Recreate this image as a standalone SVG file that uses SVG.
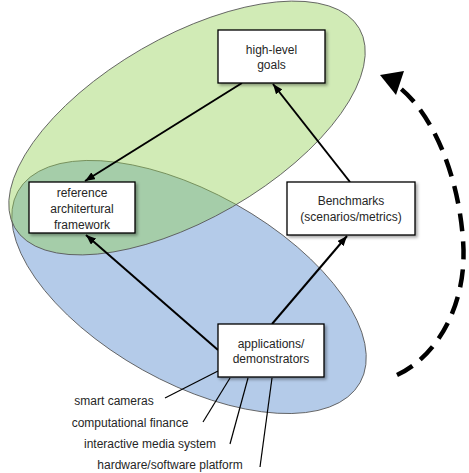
<svg xmlns="http://www.w3.org/2000/svg" width="469" height="473" viewBox="0 0 469 473">
<style>
.box{fill:#ffffff;stroke:#000000;stroke-width:1.3;filter:url(#sh)}
.t{font-family:"Liberation Sans",Arial,sans-serif;font-size:12px;fill:#262626;text-anchor:middle}
.arr{stroke:#000;stroke-width:2;fill:none;marker-end:url(#ah)}
.lead{stroke:#000;stroke-width:1.2;fill:none}
.ell{stroke:#555;stroke-width:0.8}
</style>
<defs>
<filter id="sh" x="-20%" y="-20%" width="150%" height="150%">
<feDropShadow dx="2" dy="2" stdDeviation="1.5" flood-color="#000" flood-opacity="0.35"/>
</filter>
<marker id="ah" markerUnits="userSpaceOnUse" markerWidth="10" markerHeight="8" viewBox="0 0 10 8" refX="10" refY="4" orient="auto">
<path d="M0,0 L10,4 L0,8 z" fill="#000"/>
</marker>
</defs>
<g id="regions">
<ellipse class="ell" cx="189" cy="287" rx="196" ry="95" transform="rotate(29.2 189 287)" fill="#b4cbe9"/>
<ellipse class="ell" cx="187" cy="128" rx="199" ry="91" transform="rotate(-30 187 128)" fill="rgb(146,208,80)" fill-opacity="0.42"/>
</g>
<g id="connectors">
<line class="arr" x1="242" y1="83" x2="85" y2="181"/>
<line class="arr" x1="350" y1="182" x2="273" y2="84"/>
<line class="arr" x1="218" y1="350" x2="86" y2="235"/>
<line class="arr" x1="272" y1="324" x2="347" y2="236"/>
<line class="lead" x1="165" y1="398" x2="218" y2="371"/>
<line class="lead" x1="203" y1="422" x2="230" y2="378"/>
<line class="lead" x1="230" y1="444" x2="248" y2="378"/>
<line class="lead" x1="260" y1="467" x2="272" y2="378"/>
<path d="M397,375 C440,355 468,300 463,240 C458,170 430,112 400,88" fill="none" stroke="#000" stroke-width="4.5" stroke-dasharray="18 10"/>
<polygon points="380,75 404,71 396,95" fill="#000"/>
</g>
<g id="goals">
<rect class="box" x="218" y="30" width="107" height="53"/>
<text class="t" x="271.5" y="54">high-level</text>
<text class="t" x="271.5" y="69">goals</text>
</g>
<g id="reference">
<rect class="box" x="29" y="182" width="106" height="51"/>
<text class="t" x="82" y="197">reference</text>
<text class="t" x="82" y="213">architertural</text>
<text class="t" x="82" y="229">framework</text>
</g>
<g id="benchmarks">
<rect class="box" x="287" y="182" width="128" height="53"/>
<text class="t" x="351" y="205">Benchmarks</text>
<text class="t" x="351" y="221">(scenarios/metrics)</text>
</g>
<g id="applications">
<rect class="box" x="218" y="324" width="106" height="53"/>
<text class="t" x="271" y="348">applications/</text>
<text class="t" x="271" y="363">demonstrators</text>
</g>
<g id="labels">
<text class="t" x="114" y="405">smart cameras</text>
<text class="t" x="130" y="427">computational finance</text>
<text class="t" x="150" y="448">interactive media system</text>
<text class="t" x="170" y="469">hardware/software platform</text>
</g>
</svg>
